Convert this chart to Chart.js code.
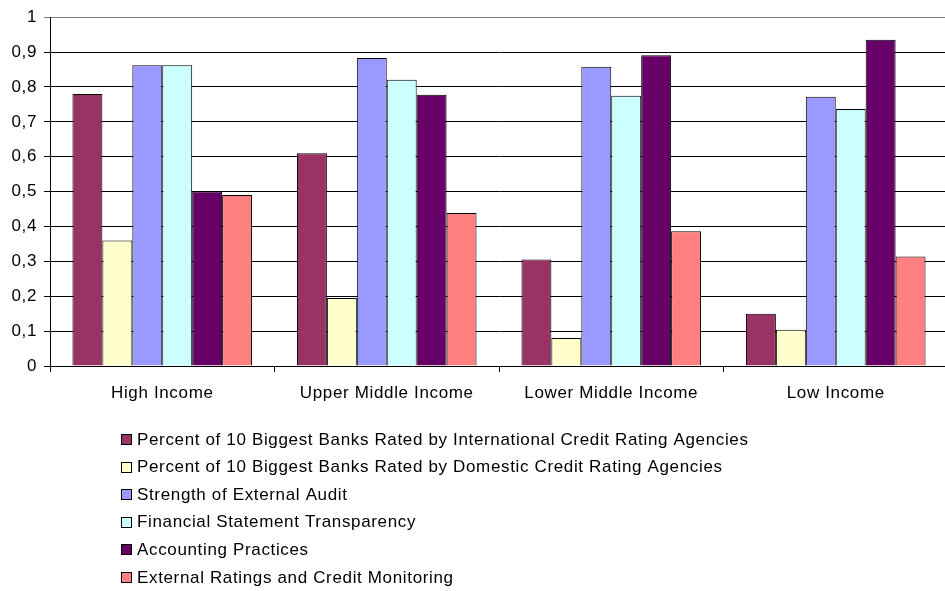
<!DOCTYPE html>
<html>
<head>
<meta charset="utf-8">
<script src="https://cdn.jsdelivr.net/npm/chart.js@4/dist/chart.umd.min.js"></script>
<style>
  html, body { margin: 0; padding: 0; background: #fff; overflow: hidden; }
  #wrap { width: 948px; height: 591px; position: relative; }
</style>
</head>
<body>
<div id="wrap"><canvas id="c"></canvas></div>
<script>
const categories = ['High Income', 'Upper Middle Income', 'Lower Middle Income', 'Low Income'];
const seriesNames = [
  'Percent of 10 Biggest Banks Rated by International Credit Rating Agencies',
  'Percent of 10 Biggest Banks Rated by Domestic Credit Rating Agencies',
  'Strength of External Audit',
  'Financial Statement Transparency',
  'Accounting Practices',
  'External Ratings and Credit Monitoring'
];
const intlRated = [0.78, 0.61, 0.305, 0.15];
const domesticRated = [0.36, 0.195, 0.08, 0.104];
const externalAudit = [0.862, 0.883, 0.858, 0.772];
const transparency = [0.862, 0.821, 0.775, 0.737];
const accounting = [0.50, 0.778, 0.891, 0.935];
const externalRatings = [0.49, 0.439, 0.386, 0.314];
const yTickLabels = ['0', '0,1', '0,2', '0,3', '0,4', '0,5', '0,6', '0,7', '0,8', '0,9', '1'];

const seriesValues = [intlRated, domesticRated, externalAudit, transparency, accounting, externalRatings];
const colors = ['#993366', '#FFFFCC', '#9999FF', '#CCFFFF', '#660066', '#FF8080'];

const FONT_FAMILY = '"Liberation Sans", Arial, sans-serif';
const FONT_SIZE = 17;
const SPACING = '0.65px';

const spacingPlugin = {
  id: 'spacing',
  beforeLayout(chart) { chart.ctx.letterSpacing = SPACING; },
  beforeDraw(chart) { chart.ctx.letterSpacing = SPACING; }
};

const legendPlugin = {
  id: 'stackLegend',
  afterDraw(chart) {
    const ctx = chart.ctx;
    ctx.save();
    ctx.letterSpacing = SPACING;
    ctx.font = FONT_SIZE + 'px ' + FONT_FAMILY;
    ctx.textBaseline = 'middle';
    ctx.textAlign = 'left';
    const x0 = 121, y0 = 439, step = 27.6, box = 10;
    chart.data.datasets.forEach((ds, i) => {
      const y = y0 + i * step;
      ctx.fillStyle = ds.backgroundColor;
      ctx.fillRect(x0 + 0.5, Math.round(y - box / 2) + 0.5, box, box);
      ctx.strokeStyle = '#000';
      ctx.lineWidth = 1;
      ctx.strokeRect(x0 + 0.5, Math.round(y - box / 2) + 0.5, box, box);
      ctx.fillStyle = '#000';
      ctx.fillText(ds.label, 137, y + 1);
    });
    ctx.restore();
  }
};

new Chart(document.getElementById('c'), {
  type: 'bar',
  data: {
    labels: categories,
    datasets: seriesNames.map((name, i) => ({
      label: name,
      data: seriesValues[i],
      backgroundColor: colors[i],
      borderColor: '#000',
      borderWidth: 1,
      categoryPercentage: 0.8,
      barPercentage: 1.0
    }))
  },
  options: {
    responsive: true,
    maintainAspectRatio: false,
    animation: false,
    events: [],
    layout: { padding: { top: 16, left: 0, right: 0, bottom: 185 } },
    plugins: {
      legend: { display: false },
      tooltip: { enabled: false },
      title: { display: false }
    },
    scales: {
      x: {
        afterFit(scale) { scale.height = 40; },
        grid: {
          offset: true,
          drawOnChartArea: false,
          drawTicks: true,
          tickLength: 6,
          color: '#000'
        },
        border: { color: '#000', width: 1 },
        ticks: {
          color: '#000',
          padding: 11,
          maxRotation: 0,
          font: { family: FONT_FAMILY, size: FONT_SIZE }
        }
      },
      y: {
        min: 0,
        max: 1,
        afterFit(scale) { scale.width = 50; },
        grid: {
          color: (c) => (c.tick && c.tick.value === 1 ? '#7a7a7a' : '#000'),
          tickLength: 6,
          drawTicks: true
        },
        border: { color: '#000', width: 1 },
        ticks: {
          stepSize: 0.1,
          color: '#000',
          padding: 7,
          font: { family: FONT_FAMILY, size: FONT_SIZE },
          callback: (v, i) => yTickLabels[i]
        }
      }
    }
  },
  plugins: [spacingPlugin, legendPlugin]
});
</script>
</body>
</html>
